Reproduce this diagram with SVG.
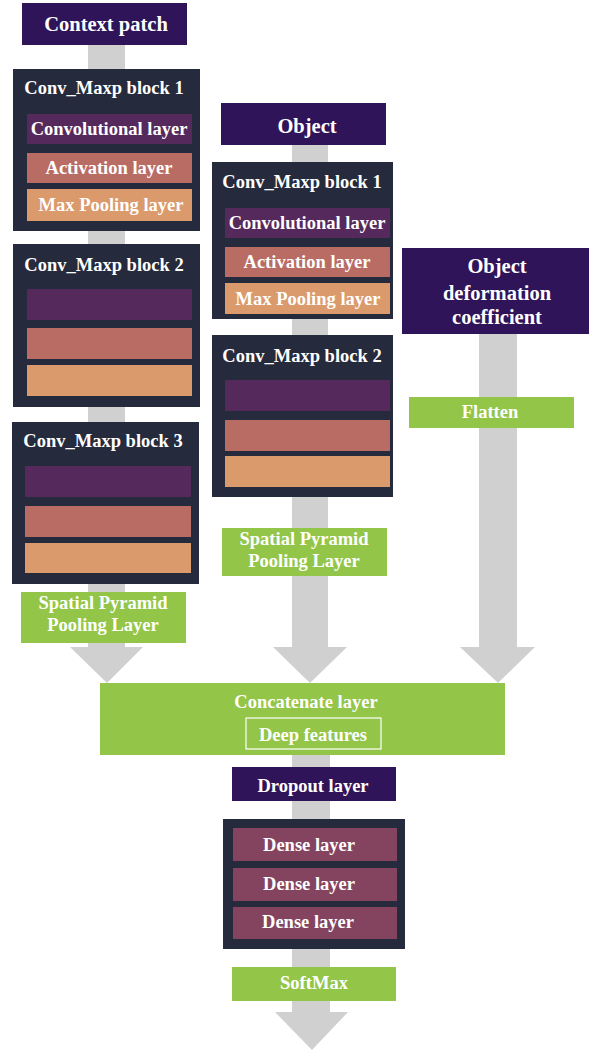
<svg xmlns="http://www.w3.org/2000/svg" width="596" height="1050" viewBox="0 0 596 1050" font-family="Liberation Serif, DejaVu Serif, serif">
<style>
text{font-weight:bold;fill:#ffffff;text-anchor:middle;font-size:18.5px}
.hd{font-size:20.5px}
.block{fill:#252a3c}
.head{fill:#2f1459}
.conv{fill:#56295c}
.act{fill:#b96c64}
.pool{fill:#da9a6b}
.green{fill:#93c648}
.dense{fill:#84445f}
.shaft{fill:#d0d0d0}
</style>
<rect width="596" height="1050" fill="#ffffff"/>
<g id="connectors">
<rect class="shaft" x="88" y="45" width="37" height="603"/>
<polygon class="shaft" points="70,647 143,647 107,683"/>
<rect class="shaft" x="292" y="145" width="36" height="503"/>
<polygon class="shaft" points="273,647 347,647 310,683"/>
<rect class="shaft" x="479" y="334" width="38" height="314"/>
<polygon class="shaft" points="460,647 535,647 498,683"/>
<rect class="shaft" x="292" y="755" width="38" height="258"/>
<polygon class="shaft" points="275,1012 348,1012 312,1050"/>
</g>
<g id="context-patch">
<rect class="head" x="22" y="3" width="165" height="42"/>
<text class="hd" x="106" y="31">Context patch</text>
</g>
<g id="left-block1">
<rect class="block" x="13" y="69" width="187" height="162"/>
<text x="104" y="94">Conv_Maxp block 1</text>
<rect class="conv" x="27" y="114" width="165" height="30"/>
<text x="109" y="135">Convolutional layer</text>
<rect class="act" x="27" y="153" width="165" height="30"/>
<text x="109" y="174">Activation layer</text>
<rect class="pool" x="27" y="189" width="165" height="32"/>
<text x="111" y="211">Max Pooling layer</text>
</g>
<g id="left-block2">
<rect class="block" x="13" y="244" width="187" height="163"/>
<text x="104" y="271">Conv_Maxp block 2</text>
<rect class="conv" x="27" y="289" width="165" height="31"/>
<rect class="act" x="27" y="328" width="165" height="31"/>
<rect class="pool" x="27" y="365" width="165" height="31"/>
</g>
<g id="left-block3">
<rect class="block" x="12" y="422" width="187" height="162"/>
<text x="103" y="447">Conv_Maxp block 3</text>
<rect class="conv" x="25" y="466" width="166" height="31"/>
<rect class="act" x="25" y="506" width="166" height="31"/>
<rect class="pool" x="25" y="543" width="166" height="30"/>
</g>
<g id="left-spp">
<rect class="green" x="21" y="592" width="165" height="51"/>
<text x="103" y="609">Spatial Pyramid</text>
<text x="103" y="631">Pooling Layer</text>
</g>
<g id="object">
<rect class="head" x="221" y="103" width="165" height="42"/>
<text class="hd" x="307" y="133">Object</text>
</g>
<g id="mid-block1">
<rect class="block" x="212" y="162" width="181" height="157"/>
<text x="302" y="188">Conv_Maxp block 1</text>
<rect class="conv" x="225" y="208" width="165" height="30"/>
<text x="307" y="229">Convolutional layer</text>
<rect class="act" x="225" y="247" width="165" height="30"/>
<text x="307" y="268">Activation layer</text>
<rect class="pool" x="225" y="283" width="165" height="31"/>
<text x="308" y="305">Max Pooling layer</text>
</g>
<g id="mid-block2">
<rect class="block" x="212" y="335" width="181" height="162"/>
<text x="302" y="362">Conv_Maxp block 2</text>
<rect class="conv" x="225" y="380" width="165" height="31"/>
<rect class="act" x="225" y="420" width="165" height="31"/>
<rect class="pool" x="225" y="456" width="165" height="31"/>
</g>
<g id="mid-spp">
<rect class="green" x="222" y="528" width="165" height="48"/>
<text x="304" y="545">Spatial Pyramid</text>
<text x="304" y="567">Pooling Layer</text>
</g>
<g id="deformation">
<rect class="head" x="402" y="248" width="187" height="86"/>
<text class="hd" x="497" y="273">Object</text>
<text class="hd" x="497" y="300">deformation</text>
<text class="hd" x="497" y="324">coefficient</text>
</g>
<g id="flatten">
<rect class="green" x="409" y="397" width="165" height="31"/>
<text x="490" y="418">Flatten</text>
</g>
<g id="concatenate">
<rect class="green" x="100" y="683" width="405" height="72"/>
<text x="306" y="708">Concatenate layer</text>
<rect x="246" y="718" width="135" height="31" fill="none" stroke="#ffffff" stroke-width="1.2"/>
<text x="313" y="741">Deep features</text>
</g>
<g id="dropout">
<rect class="head" x="232" y="767" width="164" height="34"/>
<text x="313" y="792">Dropout layer</text>
</g>
<g id="dense-block">
<rect class="block" x="223" y="819" width="182" height="130"/>
<rect class="dense" x="233" y="828" width="164" height="33"/>
<text x="309" y="851">Dense layer</text>
<rect class="dense" x="233" y="868" width="164" height="33"/>
<text x="309" y="890">Dense layer</text>
<rect class="dense" x="233" y="907" width="164" height="32"/>
<text x="308" y="928">Dense layer</text>
</g>
<g id="softmax">
<rect class="green" x="232" y="967" width="164" height="34"/>
<text x="314" y="989">SoftMax</text>
</g>
</svg>
